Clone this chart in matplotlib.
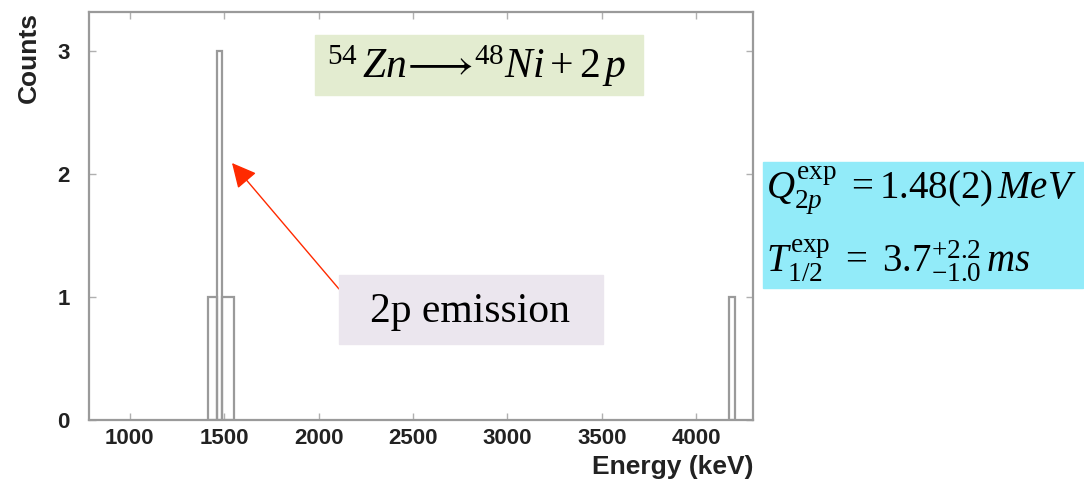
import numpy as np
import matplotlib.pyplot as plt
from matplotlib.patches import Rectangle

plt.rcParams['font.family'] = ['Liberation Sans', 'DejaVu Sans']
plt.rcParams['mathtext.fontset'] = 'custom'
plt.rcParams['mathtext.rm'] = 'Liberation Serif'
plt.rcParams['mathtext.it'] = 'Liberation Serif:italic'
plt.rcParams['mathtext.bf'] = 'Liberation Serif:bold'

# histogram bins (keV) and counts
bin_left = [1415, 1460, 1490, 4175]
bin_width = [45, 30, 60, 30]
counts = [1, 3, 1, 1]

x_ticks = [1000, 1500, 2000, 2500, 3000, 3500, 4000]
y_ticks = [0, 1, 2, 3]

fig = plt.figure(figsize=(10.84, 4.9), dpi=100)
ax = fig.add_axes([89/1084, 1 - 420/490, (753 - 89)/1084, (420 - 12)/490])

frame = '#9a9a9a'
ax.bar(bin_left, counts, width=bin_width, align='edge', fill=False,
       edgecolor=frame, linewidth=1.6)

ax.set_xlim(785, 4300)
ax.set_ylim(0, 3.32)
ax.set_xticks(x_ticks)
ax.set_yticks(y_ticks)
ax.tick_params(direction='in', length=5, width=1, color='#b0b0b0',
               top=True, right=True, labelsize=16, labelcolor='#222222')
ax.tick_params(axis='y', pad=14)
ax.tick_params(axis='x', pad=6)
for lab in ax.get_xticklabels() + ax.get_yticklabels():
    lab.set_fontweight('bold')
for s in ax.spines.values():
    s.set_color(frame)
    s.set_linewidth(1.6)

ax.set_xlabel('Energy (keV)', loc='right', fontsize=19, fontweight='bold',
              color='#222222', labelpad=4)
ax.set_ylabel('Counts', loc='top', fontsize=19, fontweight='bold',
              color='#222222', labelpad=12)

# reaction box
fig.patches.append(Rectangle((315/1084, 1 - 95/490), 328/1084, 60/490,
                             transform=fig.transFigure, color='#e3ecd0', zorder=3))
fig.text(477/1084, 1 - 66/490, r'$^{54}\,Zn\!\longrightarrow\!^{48}Ni+2\,p$', fontsize=30,
         ha='center', va='center', zorder=4)

# results box
fig.patches.append(Rectangle((763/1084, 1 - 288/490), 320/1084, 126/490,
                             transform=fig.transFigure, color='#92ebf9', zorder=3))
fig.text(766/1084, 1 - 190/490, r'$Q_{2p}^{\mathrm{exp}}\ =1.48(2)\,MeV$', fontsize=28,
         ha='left', va='center', zorder=4)
fig.text(766/1084, 1 - 260/490, r'$T_{1/2}^{\mathrm{exp}}\ =\ 3.7_{-1.0}^{+2.2}\,ms$', fontsize=28,
         ha='left', va='center', zorder=4)

# label box + arrow
fig.patches.append(Rectangle((339/1084, 1 - 344/490), 264/1084, 69/490,
                             transform=fig.transFigure, color='#ebe6ee', zorder=3))
fig.text(470/1084, 1 - 312/490, '2p emission', fontsize=30, family='Liberation Serif',
         ha='center', va='center', zorder=4)
ax.annotate('', xy=(232/1084, 1 - 163/490), xycoords='figure fraction',
            xytext=(339/1084, 1 - 289/490), textcoords='figure fraction',
            arrowprops=dict(arrowstyle='-|>,head_length=0.6,head_width=0.3',
                            color='#ff2a00', lw=1, mutation_scale=25,
                            shrinkA=0, shrinkB=0))

fig.savefig('out.png', dpi=100)
